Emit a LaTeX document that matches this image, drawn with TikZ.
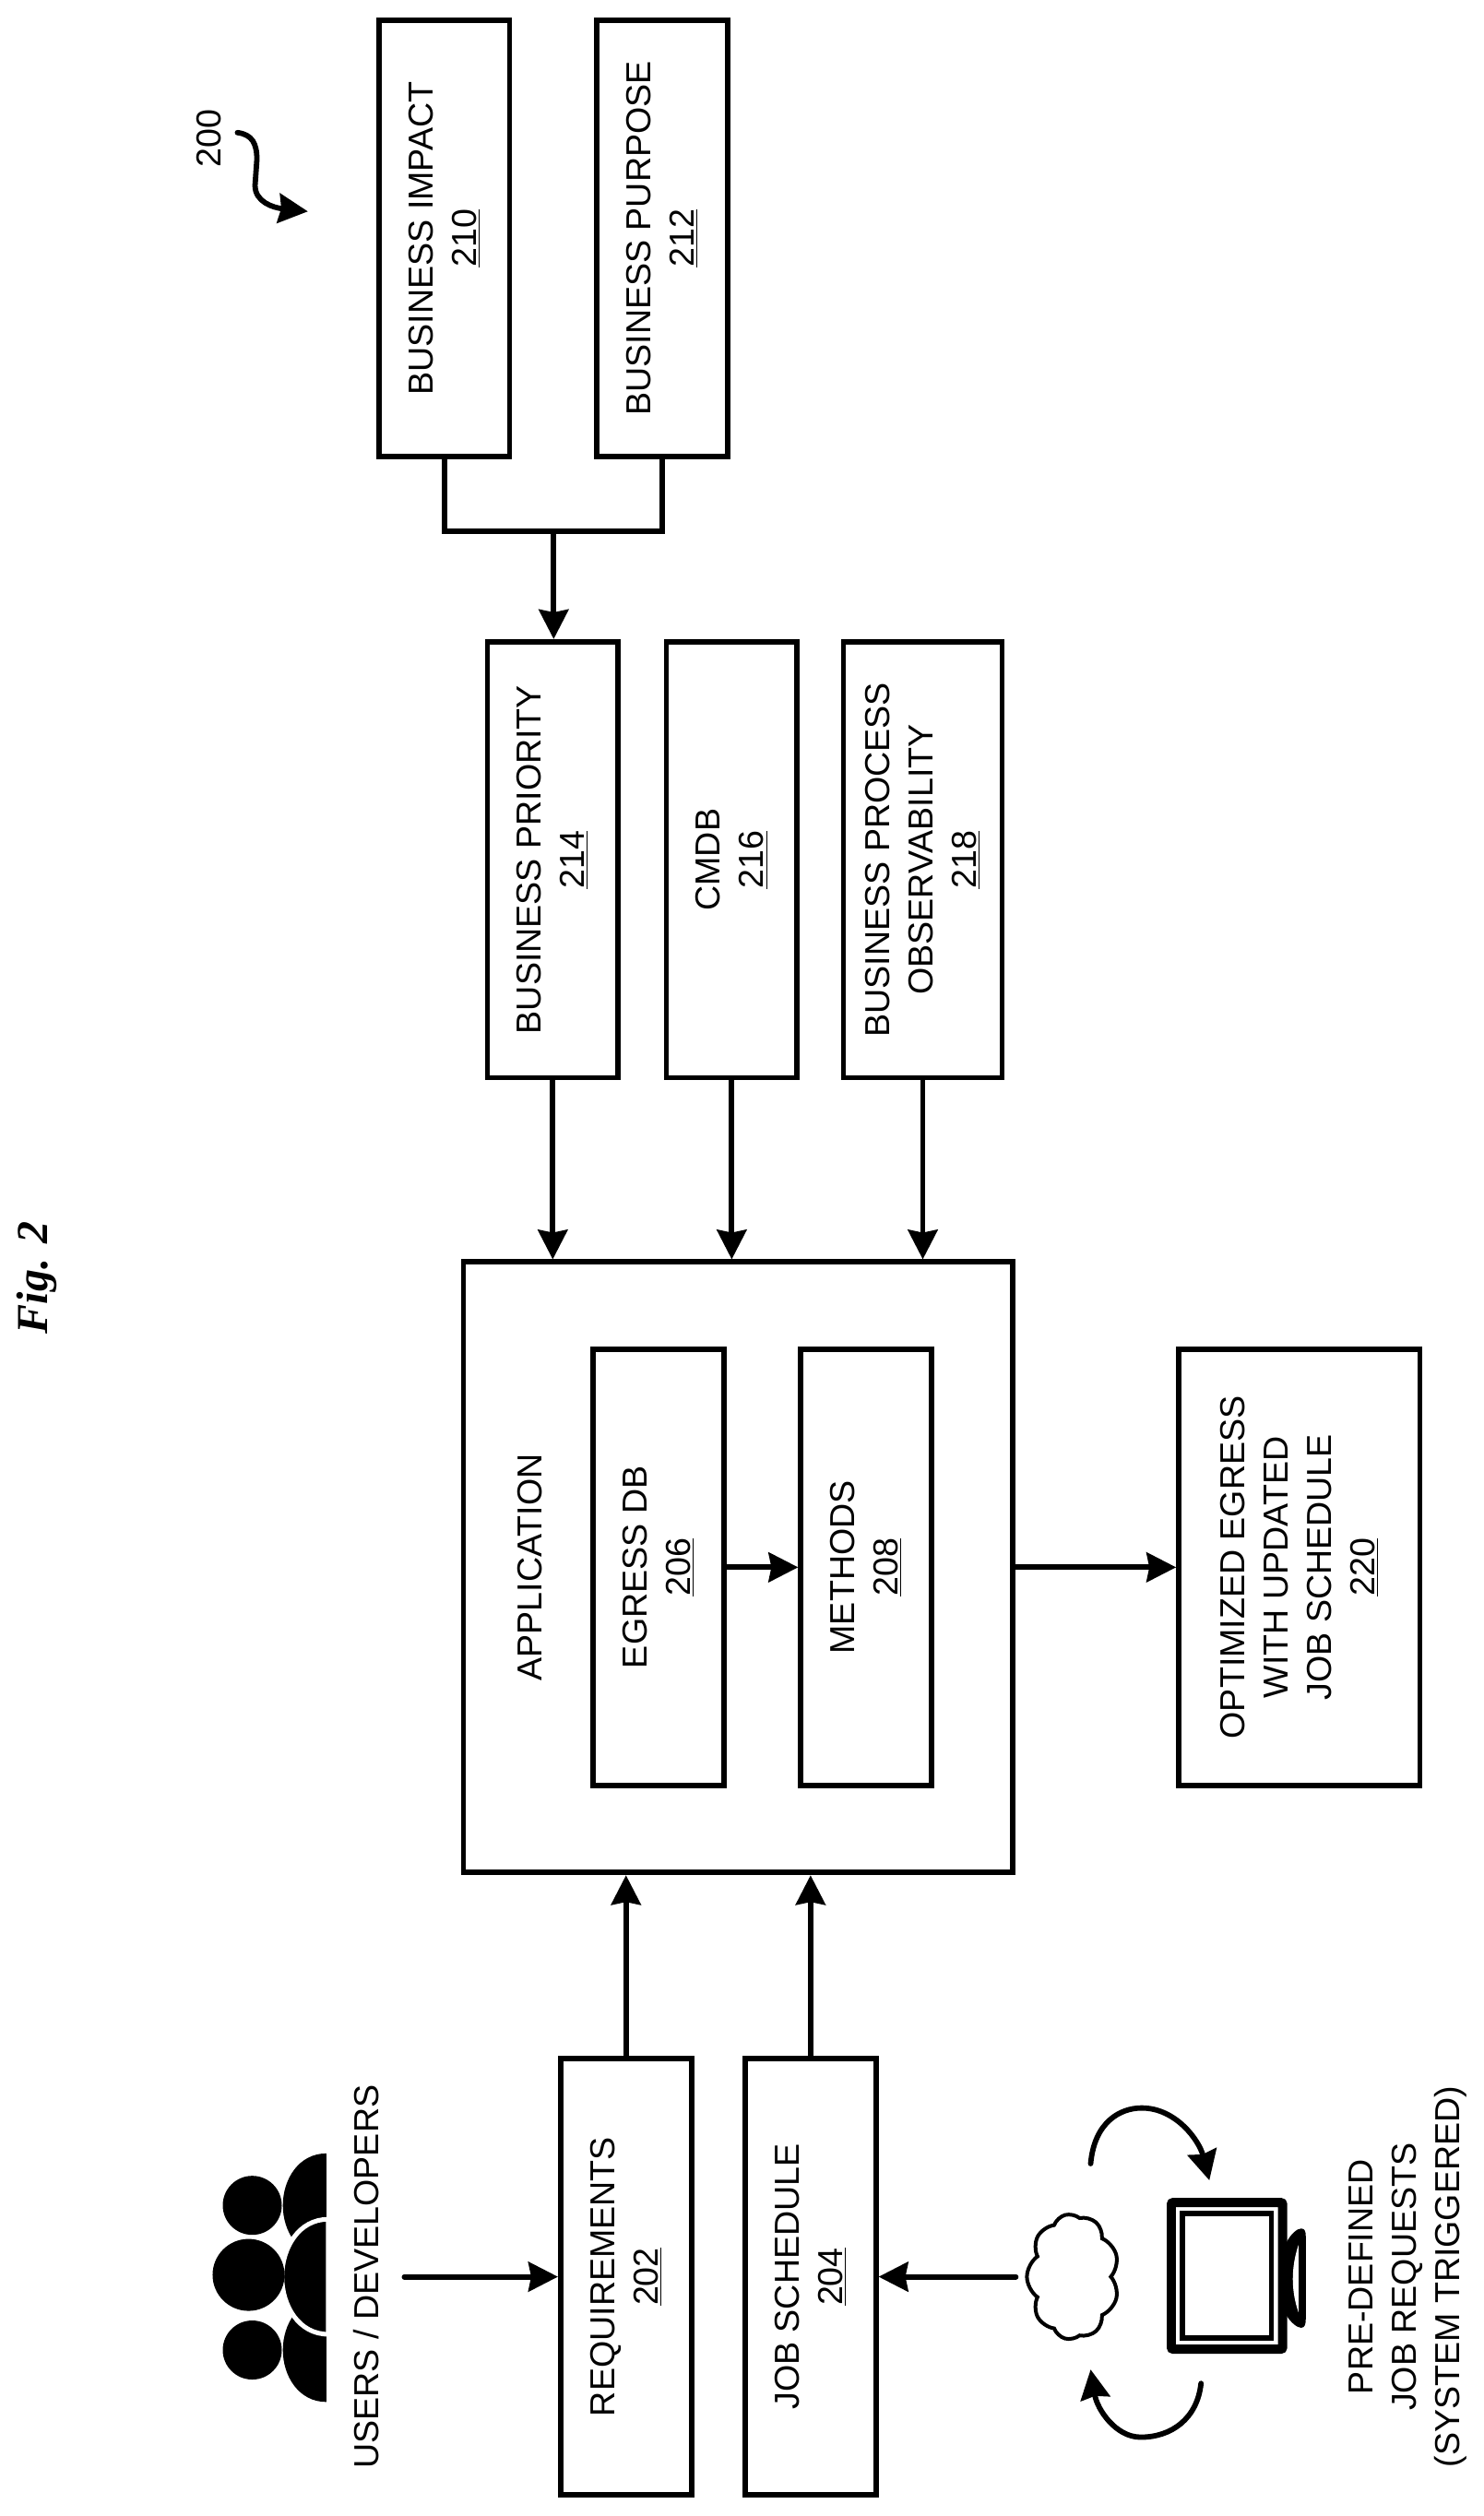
\documentclass[tikz,border=0pt]{standalone}
\usepackage{fontspec}
\setmainfont{Liberation Sans}
\newfontfamily\figfont{Liberation Serif}
\usetikzlibrary{positioning, arrows.meta, shapes.symbols}

\begin{document}
\begin{tikzpicture}[
    x=0.5028pt, y=-0.5028pt, % Page pixels, y runs downwards
    box/.style={draw, line width=2.9pt, rotate=90, align=center, inner sep=0pt,
      minimum width=236.3pt, minimum height=70.9pt, font=\fontsize{18.8}{23.5}\selectfont}, % Style for blocks
    label/.style={rotate=90, align=center, inner sep=0pt, font=\fontsize{18.8}{23.5}\selectfont}, % Style for free texts
    arr/.style={line width=2.9pt, -{Stealth[length=16pt,width=16pt,inset=1.5pt]}}, % Style for arrows
    link/.style={line width=2.9pt} % Style for plain lines
  ]
    \useasboundingbox (0,0) rectangle (1600,2713);

    % Define nodes
    \node (fig)  [rotate=90, inner sep=0pt, font=\figfont\bfseries\itshape\fontsize{24}{28}\selectfont] at (40,1378) {Fig. 2};
    \node (ref)  [label] at (225,149) {200};
    \node (B210) [box] at (479,257) {BUSINESS IMPACT\\\underline{210}};
    \node (B212) [box] at (714,257) {BUSINESS PURPOSE\\\underline{212}};
    \node (B214) [box] at (596,927) {BUSINESS PRIORITY\\\underline{214}};
    \node (B216) [box] at (789,927) {CMDB\\\underline{216}};
    \node (B218) [box, minimum height=86pt] at (995,927) {BUSINESS PROCESS\\OBSERVABILITY\\\underline{218}};
    \node (APP)  [box, minimum width=331pt, minimum height=298pt] at (796,1690) {};
    \node (AL)   [label] at (571,1690) {APPLICATION};
    \node (B206) [box] at (710,1690) {EGRESS DB\\\underline{206}};
    \node (B208) [box] at (934,1690) {METHODS\\\underline{208}};
    \node (B220) [box, minimum height=130.7pt] at (1401,1690) {OPTIMIZED EGRESS\\WITH UPDATED\\JOB SCHEDULE\\\underline{220}};
    \node (B202) [box] at (675,2455) {REQUIREMENTS\\\underline{202}};
    \node (B204) [box] at (874,2455) {JOB SCHEDULE\\\underline{204}};
    \node (UD)   [label] at (395,2455) {USERS / DEVELOPERS};
    \node (PD)   [label] at (1518,2455) {PRE-DEFINED\\JOB REQUESTS\\(SYSTEM TRIGGERED)};
    \node (CL)   [draw, cloud, cloud puffs=9, cloud puff arc=110, aspect=0.8, line width=2pt,
                  rotate=90, minimum width=68pt, minimum height=50pt, inner sep=0pt] at (1157,2455) {};
    \coordinate (UO) at (436,2455);
    \coordinate (J1) at (597,573);

    % Users icon
    \fill (272,2378) circle [radius=16pt];
    \fill (272,2534) circle [radius=16pt];
    \fill (352,2322) .. controls (322,2322) and (305,2350) .. (305,2378) .. controls (305,2406) and (322,2434) .. (352,2434) -- cycle;
    \fill (352,2478) .. controls (322,2478) and (305,2506) .. (305,2534) .. controls (305,2562) and (322,2590) .. (352,2590) -- cycle;
    \fill[draw=white, line width=2.5pt] (354,2393) .. controls (322,2393) and (304,2424) .. (304,2455) .. controls (304,2486) and (322,2517) .. (354,2517) -- cycle;
    \fill[white] (353.5,2300) rectangle (365,2600);
    \fill (268,2453) circle [radius=19.5pt];

    % Monitor icon
    \draw[line width=5pt, rounded corners=1pt] (1263,2375) rectangle (1383,2533);
    \draw[line width=2.8pt] (1275,2387) rectangle (1371,2521);
    \fill (1386,2420) .. controls (1392,2408) and (1399,2403) .. (1403,2403) .. controls (1407,2403) and (1408,2406) .. (1408,2412) -- (1408,2500) .. controls (1408,2506) and (1407,2510) .. (1403,2510) .. controls (1399,2510) and (1392,2505) .. (1386,2495) -- cycle;
    \fill[white] (1400,2421) .. controls (1392,2445) and (1392,2470) .. (1400,2493) -- cycle;

    % Loop arrows
    \draw[arr, line cap=round] (1176,2333) .. controls (1180,2288) and (1208,2273) .. (1231,2273) .. controls (1268,2273) and (1293,2308) .. (1304,2351);
    \draw[arr, line cap=round] (1295,2570) .. controls (1291,2608) and (1263,2628) .. (1230,2628) .. controls (1203,2628) and (1183,2598) .. (1176,2555);

    % Reference squiggle
    \draw[arr, line cap=round] (256,143) .. controls (272,145) and (277,155) .. (277,172) -- (275,200) .. controls (275,218) and (295,224) .. (332,228);

    % Draw arrows
    \draw[link] (B210.west) |- (J1);
    \draw[link] (B212.west) |- (J1);
    \draw[arr]  (J1) -- (J1 |- B214.east);
    \draw[arr]  (B214.west) -- (B214.west |- APP.east);
    \draw[arr]  (B216.west) -- (B216.west |- APP.east);
    \draw[arr]  (B218.west) -- (B218.west |- APP.east);
    \draw[arr]  (B206.south) -- (B208.north);
    \draw[arr]  (APP.south |- B206.south) -- (B220.north);
    \draw[arr]  (B202.east) -- (B202.east |- APP.west);
    \draw[arr]  (B204.east) -- (B204.east |- APP.west);
    \draw[arr, line cap=round]  (UO) -- (B202.north);
    \draw[arr, line cap=round, shorten <=5pt]  (CL.north |- B204.south) -- (B204.south);
\end{tikzpicture}
\end{document}
